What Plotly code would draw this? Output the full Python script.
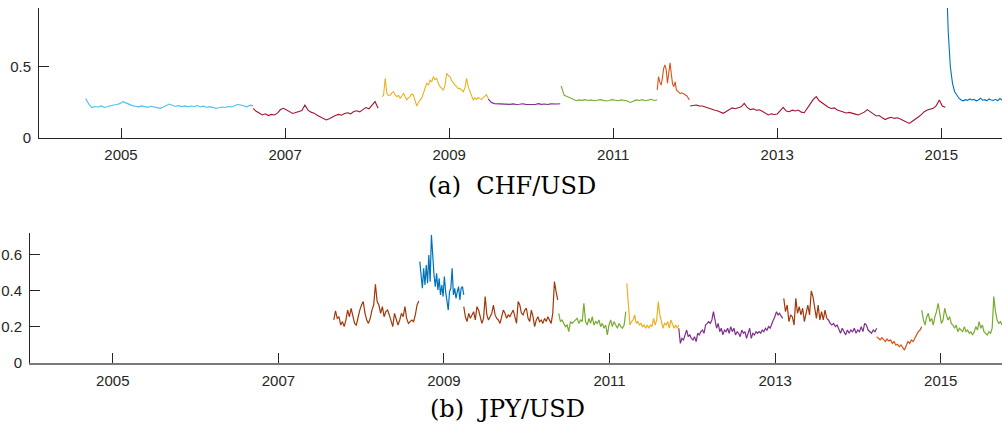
import numpy as np
import plotly.graph_objects as go

# ---------------- DATA ----------------
tick_years = [2005, 2007, 2009, 2011, 2013, 2015]
tick_labels = ["2005", "2007", "2009", "2011", "2013", "2015"]

# CHF/USD segments: (start year, end year) and values
chf_bounds = [
    (2004.57, 2006.61), (2006.61, 2008.134), (2008.18, 2009.476), (2009.476, 2010.354),
    (2010.366, 2011.537), (2011.537, 2011.927), (2011.939, 2015.049), (2015.058, 2015.74),
]
chf_colors = ["#4DBEEE", "#A2142F", "#EDB120", "#7E2F8E", "#77AC30", "#D95319", "#A2142F", "#0072BD"]

chf_s1 = [0.277, 0.238, 0.214, 0.222, 0.218, 0.226, 0.215, 0.222, 0.228, 0.232, 0.236, 0.242, 0.256, 0.245,
          0.238, 0.228, 0.224, 0.219, 0.226, 0.221, 0.216, 0.223, 0.220, 0.212, 0.209, 0.218, 0.226, 0.239,
          0.229, 0.224, 0.228, 0.221, 0.226, 0.219, 0.225, 0.222, 0.228, 0.218, 0.224, 0.217, 0.221, 0.214,
          0.210, 0.213, 0.218, 0.215, 0.222, 0.219, 0.226, 0.236, 0.232, 0.224, 0.219, 0.231, 0.226]
chf_s2 = [0.209, 0.188, 0.176, 0.162, 0.170, 0.158, 0.166, 0.162, 0.175, 0.200, 0.209, 0.196, 0.185, 0.173,
          0.180, 0.188, 0.194, 0.232, 0.196, 0.182, 0.175, 0.160, 0.150, 0.140, 0.127, 0.136, 0.150, 0.158,
          0.166, 0.160, 0.172, 0.178, 0.170, 0.186, 0.192, 0.184, 0.200, 0.214, 0.205, 0.228, 0.256, 0.209]
chf_s3 = [0.291, 0.300, 0.420, 0.315, 0.298, 0.303, 0.318, 0.326, 0.305, 0.291, 0.300, 0.280, 0.296, 0.315,
          0.290, 0.268, 0.284, 0.291, 0.310, 0.303, 0.262, 0.225, 0.250, 0.268, 0.282, 0.315, 0.345, 0.385,
          0.372, 0.408, 0.395, 0.432, 0.410, 0.420, 0.385, 0.361, 0.350, 0.338, 0.370, 0.455, 0.440, 0.432,
          0.405, 0.385, 0.372, 0.361, 0.348, 0.350, 0.335, 0.326, 0.352, 0.420, 0.360, 0.326, 0.298, 0.268,
          0.282, 0.270, 0.285, 0.280, 0.270, 0.285, 0.296, 0.305, 0.280]
chf_s4 = [0.275, 0.250, 0.242, 0.240, 0.238, 0.236, 0.239, 0.237, 0.240, 0.236, 0.238, 0.241, 0.237, 0.235,
          0.238, 0.236, 0.242, 0.237, 0.239, 0.236, 0.240, 0.237, 0.239, 0.241]
chf_s5 = [0.366, 0.300, 0.292, 0.280, 0.270, 0.262, 0.268, 0.265, 0.270, 0.264, 0.268, 0.262, 0.266, 0.270,
          0.265, 0.260, 0.264, 0.270, 0.266, 0.262, 0.268, 0.265, 0.260, 0.250, 0.262, 0.268, 0.264, 0.270,
          0.262, 0.266, 0.272, 0.264, 0.268]
chf_s6 = [0.338, 0.432, 0.395, 0.372, 0.420, 0.490, 0.514, 0.479, 0.385, 0.450, 0.530, 0.450, 0.380, 0.361,
          0.396, 0.338, 0.330, 0.320, 0.312, 0.318, 0.315, 0.310, 0.303, 0.298, 0.285, 0.268]
chf_s7 = [0.225, 0.228, 0.232, 0.226, 0.225, 0.218, 0.210, 0.200, 0.197, 0.192, 0.182, 0.174, 0.186, 0.198,
          0.212, 0.206, 0.214, 0.220, 0.244, 0.215, 0.200, 0.205, 0.195, 0.198, 0.188, 0.172, 0.162, 0.170,
          0.166, 0.169, 0.190, 0.216, 0.190, 0.185, 0.196, 0.190, 0.197, 0.182, 0.178, 0.205, 0.240, 0.272,
          0.291, 0.262, 0.245, 0.232, 0.216, 0.208, 0.212, 0.197, 0.190, 0.184, 0.176, 0.180, 0.172, 0.168,
          0.162, 0.170, 0.182, 0.200, 0.188, 0.170, 0.155, 0.158, 0.142, 0.130, 0.140, 0.146, 0.138, 0.142,
          0.134, 0.125, 0.112, 0.103, 0.118, 0.130, 0.148, 0.165, 0.185, 0.197, 0.205, 0.209, 0.228, 0.268,
          0.225, 0.216]
chf_s8 = [1.200, 0.750, 0.500, 0.385, 0.326, 0.300, 0.280, 0.268, 0.262, 0.270, 0.265, 0.275, 0.268, 0.272,
          0.262, 0.268, 0.280, 0.266, 0.270, 0.262, 0.275, 0.268, 0.264, 0.272, 0.262, 0.278, 0.268]
chf_values = [chf_s1, chf_s2, chf_s3, chf_s4, chf_s5, chf_s6, chf_s7, chf_s8]

# JPY/USD segments
jpy_bounds = [
    (2007.669, 2008.696), (2008.708, 2009.239), (2009.239, 2010.374), (2010.386, 2011.196),
    (2011.208, 2011.836), (2011.836, 2013.092), (2013.104, 2013.623), (2013.623, 2014.227),
    (2014.227, 2014.771), (2014.771, 2015.74),
]
jpy_colors = ["#A2380A", "#0072BD", "#A2380A", "#77AC30", "#EDB120", "#7E2F8E", "#A2380A", "#7E2F8E",
              "#D95319", "#77AC30"]

jpy_s1 = [0.239, 0.289, 0.248, 0.257, 0.211, 0.230, 0.202, 0.239, 0.294, 0.257, 0.304, 0.267, 0.220, 0.211,
          0.257, 0.294, 0.322, 0.341, 0.276, 0.239, 0.220, 0.248, 0.294, 0.322, 0.437, 0.341, 0.322, 0.276,
          0.313, 0.257, 0.285, 0.294, 0.267, 0.230, 0.202, 0.276, 0.248, 0.211, 0.239, 0.276, 0.257, 0.313,
          0.248, 0.220, 0.230, 0.239, 0.230, 0.267, 0.322, 0.344]
jpy_s2 = [0.563, 0.489, 0.415, 0.526, 0.433, 0.544, 0.443, 0.600, 0.452, 0.711, 0.581, 0.489, 0.424, 0.498,
          0.406, 0.470, 0.378, 0.433, 0.369, 0.480, 0.396, 0.350, 0.294, 0.396, 0.415, 0.526, 0.378, 0.415,
          0.359, 0.396, 0.424, 0.350, 0.415, 0.424, 0.378]
jpy_s3 = [0.313, 0.257, 0.230, 0.276, 0.248, 0.267, 0.285, 0.239, 0.313, 0.294, 0.257, 0.220, 0.248, 0.369,
          0.267, 0.239, 0.257, 0.276, 0.322, 0.267, 0.248, 0.239, 0.220, 0.257, 0.294, 0.276, 0.248, 0.267,
          0.257, 0.276, 0.294, 0.257, 0.220, 0.341, 0.322, 0.276, 0.267, 0.294, 0.304, 0.248, 0.230, 0.294,
          0.257, 0.202, 0.239, 0.257, 0.230, 0.239, 0.220, 0.248, 0.230, 0.257, 0.239, 0.220, 0.276, 0.452,
          0.396, 0.350]
jpy_s4 = [0.276, 0.230, 0.239, 0.220, 0.202, 0.211, 0.174, 0.230, 0.220, 0.230, 0.239, 0.248, 0.220, 0.239,
          0.230, 0.331, 0.230, 0.211, 0.248, 0.220, 0.257, 0.211, 0.230, 0.220, 0.239, 0.202, 0.220, 0.193,
          0.211, 0.156, 0.211, 0.239, 0.202, 0.230, 0.211, 0.193, 0.220, 0.202, 0.193, 0.211, 0.285]
jpy_s5 = [0.443, 0.322, 0.211, 0.230, 0.239, 0.267, 0.220, 0.230, 0.211, 0.220, 0.202, 0.211, 0.193, 0.211,
          0.193, 0.211, 0.202, 0.248, 0.211, 0.239, 0.341, 0.267, 0.220, 0.193, 0.220, 0.211, 0.230, 0.193,
          0.239, 0.211, 0.193, 0.211, 0.193, 0.211]
jpy_s6 = [0.193, 0.109, 0.137, 0.128, 0.156, 0.183, 0.146, 0.156, 0.137, 0.128, 0.146, 0.119, 0.165, 0.156,
          0.174, 0.183, 0.165, 0.211, 0.220, 0.230, 0.220, 0.239, 0.285, 0.248, 0.193, 0.220, 0.174, 0.193,
          0.156, 0.183, 0.174, 0.193, 0.165, 0.202, 0.174, 0.193, 0.156, 0.174, 0.165, 0.146, 0.183, 0.165,
          0.174, 0.137, 0.165, 0.193, 0.137, 0.165, 0.156, 0.174, 0.165, 0.174, 0.165, 0.183, 0.174, 0.193,
          0.183, 0.202, 0.193, 0.220, 0.239, 0.257, 0.285, 0.267, 0.276, 0.260, 0.248]
jpy_s7 = [0.359, 0.285, 0.322, 0.230, 0.267, 0.257, 0.211, 0.359, 0.276, 0.313, 0.267, 0.304, 0.230, 0.285,
          0.322, 0.267, 0.400, 0.369, 0.304, 0.248, 0.322, 0.239, 0.285, 0.239, 0.294, 0.248]
jpy_s8 = [0.248, 0.239, 0.220, 0.211, 0.220, 0.202, 0.211, 0.183, 0.165, 0.193, 0.174, 0.156, 0.183, 0.165,
          0.183, 0.174, 0.193, 0.165, 0.183, 0.174, 0.202, 0.174, 0.220, 0.211, 0.183, 0.174, 0.165, 0.183,
          0.174, 0.193]
jpy_s9 = [0.146, 0.137, 0.128, 0.141, 0.128, 0.119, 0.133, 0.122, 0.128, 0.109, 0.119, 0.100, 0.104, 0.091,
          0.100, 0.085, 0.072, 0.096, 0.119, 0.109, 0.128, 0.119, 0.137, 0.156, 0.174, 0.183, 0.202]
jpy_s10 = [0.294, 0.239, 0.211, 0.257, 0.276, 0.230, 0.248, 0.211, 0.257, 0.285, 0.331, 0.267, 0.220, 0.239,
           0.304, 0.267, 0.239, 0.257, 0.220, 0.211, 0.193, 0.211, 0.174, 0.193, 0.183, 0.174, 0.202, 0.174,
           0.183, 0.165, 0.174, 0.156, 0.174, 0.202, 0.183, 0.230, 0.193, 0.211, 0.174, 0.165, 0.156, 0.174,
           0.165, 0.193, 0.369, 0.285, 0.239, 0.220, 0.230, 0.211]
jpy_values = [jpy_s1, jpy_s2, jpy_s3, jpy_s4, jpy_s5, jpy_s6, jpy_s7, jpy_s8, jpy_s9, jpy_s10]

# ---------------- FIGURE ----------------
fig = go.Figure()

for (t0, t1), vals, col in zip(chf_bounds, chf_values, chf_colors):
    fig.add_trace(go.Scatter(x=np.linspace(t0, t1, len(vals)), y=vals, mode="lines",
                             line=dict(color=col, width=1.1), xaxis="x", yaxis="y", showlegend=False))

for (t0, t1), vals, col in zip(jpy_bounds, jpy_values, jpy_colors):
    fig.add_trace(go.Scatter(x=np.linspace(t0, t1, len(vals)), y=vals, mode="lines",
                             line=dict(color=col, width=1.2), xaxis="x2", yaxis="y2", showlegend=False))

axis_font = dict(family="Liberation Sans, Arial, sans-serif", size=15, color="#262626")
common_x = dict(range=[2004.0, 2015.74], tickvals=tick_years, ticktext=tick_labels, ticks="inside",
                ticklen=10, tickcolor="#262626", showline=True,
                showgrid=False, zeroline=False, tickfont=axis_font, ticklabelstandoff=3, automargin=False)
common_y = dict(ticks="inside", ticklen=10, tickcolor="#262626", showline=True, linecolor="#262626",
                linewidth=1, showgrid=False, zeroline=False, tickfont=axis_font, ticklabelstandoff=4,
                automargin=False)

fig.update_layout(
    width=1002, height=430,
    margin=dict(l=0, r=0, t=0, b=0, autoexpand=False),
    paper_bgcolor="white", plot_bgcolor="white",
    xaxis=dict(domain=[39 / 1002, 1.0], anchor="y", linecolor="#262626", linewidth=1, **common_x),
    yaxis=dict(domain=[1 - 138 / 430, 1 - 8 / 430], anchor="x", range=[0, 0.915],
               tickvals=[0, 0.5], ticktext=["0", "0.5"], **common_y),
    xaxis2=dict(domain=[30 / 1002, 1.0], anchor="y2", linecolor="#7a7a7a", linewidth=1.6, **common_x),
    yaxis2=dict(domain=[1 - 363 / 430, 1 - 233 / 430], anchor="x2", range=[0, 0.722],
                tickvals=[0, 0.2, 0.4, 0.6], ticktext=["0", "0.2", "0.4", "0.6"], **common_y),
    annotations=[
        dict(text="(a)\u00a0\u00a0CHF/USD", x=512 / 1002, y=1 - 186 / 430, xref="paper", yref="paper",
             showarrow=False, xanchor="center", yanchor="middle",
             font=dict(family="DejaVu Serif, serif", size=24, color="#000000")),
        dict(text="(b)\u00a0\u00a0JPY/USD", x=507 / 1002, y=1 - 409 / 430, xref="paper", yref="paper",
             showarrow=False, xanchor="center", yanchor="middle",
             font=dict(family="DejaVu Serif, serif", size=24, color="#000000")),
    ],
)

fig.write_html("out.html")
